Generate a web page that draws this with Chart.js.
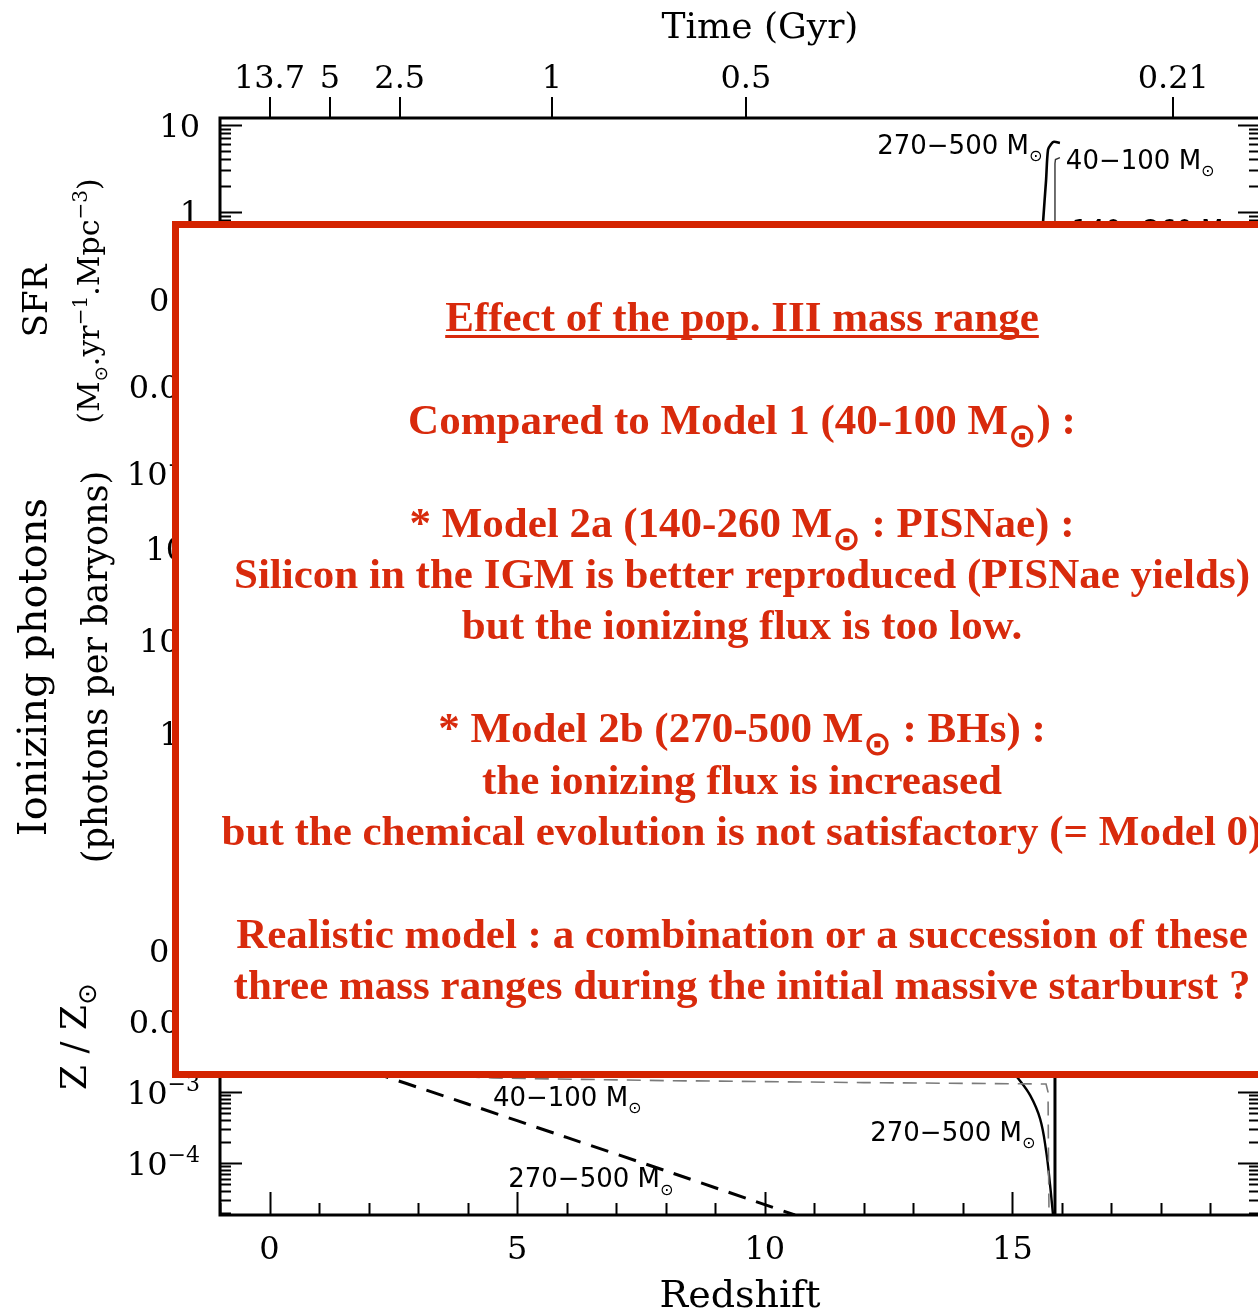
<!DOCTYPE html>
<html>
<head>
<meta charset="utf-8">
<title>Pop III mass range</title>
<script src="https://cdn.jsdelivr.net/npm/chart.js@4.4.1/dist/chart.umd.min.js"></script>
<style>
  html, body { margin: 0; padding: 0; overflow: hidden; background: #fff; }
  canvas { display: block; }
</style>
</head>
<body>
<canvas id="popChart" width="1300" height="1320"></canvas>
<script>
// Redshift axis shared by the three panels
const redshiftMin = -1;
const redshiftMax = 20;
const redshiftTicks = [0, 5, 10, 15];

// Cosmic time (Gyr) labels along the top, with the redshift each one marks
const timeLabels = ['13.7', '5', '2.5', '1', '0.5', '0.21'];
const timeRedshifts = [0, 1.22, 2.63, 5.7, 9.62, 18.25];

// Vertical ranges of the panels (SFR, ionizing photons, metallicity)
const sfrRange = [7.4e-4, 12];
const ionRange = [0.54, 4900];
const metalRange = [1.86e-5, 2.56];

// Labelled decades on each panel
const sfrDecades = [1e-3, 0.01, 0.1, 1, 10];
const ionDecades = [1, 10, 100, 1000];
const metalDecades = [1e-4, 1e-3, 0.01, 0.1, 1];

// Star formation rate, 270-500 Msun burst
const sfrBhZ = [15.58, 15.62, 15.68, 15.72, 15.78, 15.84, 15.96];
const sfrBhVal = [0.3, 0.77, 2.3, 5.2, 6.0, 6.4, 6.2];

// Star formation rate, 40-100 Msun burst
const sfrLowZ = [15.86, 15.86, 15.87, 15.96];
const sfrLowVal = [0.3, 3.6, 4.0, 4.2];

// IGM metallicity, 270-500 Msun
const igmBhZ = [1.5, 4, 6, 8, 10, 10.61];
const igmBhVal = [2.6e-3, 6.8e-4, 2.3e-4, 7.8e-5, 2.6e-5, 1.86e-5];

// IGM metallicity, 40-100 Msun
const igmLowZ = [3.5, 4.5, 8, 12, 15.68, 15.72, 15.73, 15.74];
const igmLowVal = [1.7e-3, 1.58e-3, 1.45e-3, 1.36e-3, 1.3e-3, 1.0e-3, 1e-4, 1.86e-5];

// Stellar metallicity, 270-500 Msun
const starBhZ = [14.7, 15.11, 15.36, 15.56, 15.68, 15.76, 15.82];
const starBhVal = [3.5e-3, 1.58e-3, 9.0e-4, 4.2e-4, 1.5e-4, 5.0e-5, 1.9e-5];

// Stellar metallicity, 140-260 Msun (instantaneous rise)
const starPisnZ = [15.86, 15.86];
const starPisnVal = [1.86e-5, 2.0e-3];

// Mass range tags written beside the curves: text, panel, redshift, value
const curveTags = [
  ['270\u2212500 M', 'ySfr', 12.27, 5.9],
  ['40\u2212100 M', 'ySfr', 16.08, 3.96],
  ['140\u2212260 M', 'ySfr', 16.2, 0.62],
  ['40\u2212100 M', 'yZ', 4.51, 8.5e-4],
  ['270\u2212500 M', 'yZ', 12.13, 2.75e-4],
  ['270\u2212500 M', 'yZ', 4.82, 6.1e-5]
];

// Summary written over the figure (null = blank line)
const noteLines = [
  [['Effect of the pop. III mass range']],
  null,
  [['Compared to Model 1 (40-100 M'], ['\u2299', 'sun'], [') :']],
  null,
  [['* Model 2a (140-260 M'], ['\u2299', 'sun'], [' : PISNae) :']],
  [['Silicon in the IGM is better reproduced (PISNae yields)']],
  [['but the ionizing flux is too low.']],
  null,
  [['* Model 2b (270-500 M'], ['\u2299', 'sun'], [' : BHs) :']],
  [['the ionizing flux is increased']],
  [['but the chemical evolution is not satisfactory (= Model 0)']],
  null,
  [['Realistic model : a combination or a succession of these']],
  [['three mass ranges during the initial massive starburst ?']]
];

const SERIF = '"DejaVu Serif"';
const NOTE_RED = '#d82a0c';
const BOX_RED = '#d42300';

function pairs(xs, ys) {
  return xs.map((x, i) => ({ x: x, y: ys[i] }));
}

// --- small rich-text helper: plain / sup / sub / sun-symbol segments ---
function segFont(kind, o) {
  if (kind === 'sun') return (o.sunBold ? 'bold ' : '') + Math.round(o.size * (o.sunScale || 0.6)) + 'px "DejaVu Sans"';
  if (kind === 'sup' || kind === 'sub') return o.weight + ' ' + Math.round(o.size * 0.68) + 'px ' + o.family;
  return o.weight + ' ' + o.size + 'px ' + o.family;
}

function segShift(kind, o) {
  if (kind === 'sun') return o.size * (o.sunShift || 0.28);
  if (kind === 'sub') return o.size * 0.25;
  if (kind === 'sup') return -o.size * 0.4;
  return 0;
}

function drawRich(ctx, segs, x, y, o) {
  let w = 0;
  for (const [text, kind] of segs) {
    ctx.font = segFont(kind, o);
    w += ctx.measureText(text).width;
  }
  let cx = o.align === 'center' ? x - w / 2 : (o.align === 'right' ? x - w : x);
  const left = cx;
  ctx.fillStyle = o.color;
  ctx.textAlign = 'left';
  ctx.textBaseline = 'alphabetic';
  for (const [text, kind] of segs) {
    ctx.font = segFont(kind, o);
    ctx.fillText(text, cx, y + segShift(kind, o));
    cx += ctx.measureText(text).width;
  }
  return { left: left, right: cx };
}

function decadeSegs(v) {
  const e = Math.round(Math.log10(v));
  if (e >= -2 && e <= 2) return [[String(v)]];
  return [['10'], [(e < 0 ? '\u2212' : '') + Math.abs(e), 'sup']];
}

function rotatedTitle(ctx, segs, cx, cy, size, sunScale) {
  ctx.save();
  ctx.translate(cx, cy);
  ctx.rotate(-Math.PI / 2);
  drawRich(ctx, segs, 0, size * 0.36,
    { size: size, weight: 'normal', family: SERIF, color: '#000', align: 'center', sunScale: sunScale });
  ctx.restore();
}

// Frame, inward ticks, decade labels and curve tags
const framePlugin = {
  id: 'frame',
  afterDatasetsDraw(chart) {
    const { ctx, chartArea: a, scales } = chart;
    ctx.save();
    ctx.strokeStyle = '#000';
    ctx.lineWidth = 2;

    for (const id of ['ySfr', 'yIon', 'yZ']) {
      const s = scales[id];
      const lo = Math.floor(Math.log10(s.min));
      const hi = Math.ceil(Math.log10(s.max));
      ctx.beginPath();
      for (let e = lo; e <= hi; e++) {
        for (let m = 1; m <= 9; m++) {
          const v = m * Math.pow(10, e);
          if (v < s.min || v > s.max) continue;
          const py = Math.round(s.getPixelForValue(v)) + 0.5;
          const len = m === 1 ? 22 : 11;
          ctx.moveTo(a.left, py); ctx.lineTo(a.left + len, py);
          ctx.moveTo(a.right, py); ctx.lineTo(a.right - len, py);
        }
      }
      ctx.stroke();
    }

    const xs = scales.x;
    ctx.beginPath();
    for (let z = Math.ceil(redshiftMin); z <= redshiftMax; z++) {
      const px = Math.round(xs.getPixelForValue(z)) + 0.5;
      const len = z % 5 === 0 ? 23 : 12;
      ctx.moveTo(px, a.bottom); ctx.lineTo(px, a.bottom - len);
    }
    ctx.stroke();

    ctx.lineWidth = 3;
    ctx.strokeRect(a.left, a.top, a.right - a.left, a.bottom - a.top);
    ctx.beginPath();
    for (const id of ['yIon', 'yZ']) {
      ctx.moveTo(a.left, scales[id].top);
      ctx.lineTo(a.right, scales[id].top);
    }
    ctx.stroke();

    // decade labels left of each panel
    const decadeSets = { ySfr: sfrDecades, yIon: ionDecades, yZ: metalDecades };
    for (const id in decadeSets) {
      const s = scales[id];
      for (const v of decadeSets[id]) {
        if (v < s.min || v > s.max) continue;
        drawRich(ctx, decadeSegs(v), a.left - 20, s.getPixelForValue(v) + 12,
          { size: 32, weight: 'normal', family: SERIF, color: '#000', align: 'right' });
      }
    }

    for (const [text, id, z, v] of curveTags) {
      drawRich(ctx, [[text], ['\u2299', 'sun']], xs.getPixelForValue(z), scales[id].getPixelForValue(v) + 9,
        { size: 26, weight: 'normal', family: '"DejaVu Sans"', color: '#000', align: 'left' });
    }
    ctx.restore();
  },
  afterDraw(chart) {
    const { ctx, scales } = chart;
    ctx.save();

    // axis titles
    const sfr = scales.ySfr, ion = scales.yIon, zz = scales.yZ;
    const sfrMid = (sfr.top + sfr.bottom) / 2;
    const ionMid = (ion.top + ion.bottom) / 2;
    const zMid = (zz.top + zz.bottom) / 2;
    rotatedTitle(ctx, [['SFR']], 35, sfrMid, 34);
    rotatedTitle(ctx, [['(M'], ['\u2299', 'sun'], ['.yr'], ['\u22121', 'sup'], ['.Mpc'], ['\u22123', 'sup'], [')']], 88, sfrMid, 30);
    rotatedTitle(ctx, [['Ionizing photons']], 32, ionMid, 40);
    rotatedTitle(ctx, [['(photons per baryons)']], 94, ionMid, 35);
    rotatedTitle(ctx, [['Z / Z'], ['\u2299', 'sun']], 73, zMid + 4, 36, 0.72);

    drawRich(ctx, [['Time (Gyr)']], 760, 38, { size: 36, weight: 'normal', family: SERIF, color: '#000', align: 'center' });

    // summary box laid over the panels
    ctx.fillStyle = '#fff';
    ctx.fillRect(172, 221, 1200, 857);
    ctx.strokeStyle = BOX_RED;
    ctx.lineWidth = 7;
    ctx.strokeRect(175.5, 224.5, 1200, 850);

    const size = 43;
    noteLines.forEach((segs, i) => {
      if (!segs) return;
      const base = 331 + 51.4 * i;
      const span = drawRich(ctx, segs, 742, base, {
        size: size, weight: 'bold', family: '"Liberation Serif"', color: NOTE_RED, align: 'center',
        sunScale: 0.8, sunShift: 0.3, sunBold: true
      });
      if (i === 0) {
        ctx.fillStyle = NOTE_RED;
        ctx.fillRect(span.left, base + 4, span.right - span.left, 3);
      }
    });
    ctx.restore();
  }
};

function panelAxis(range, weight, height) {
  return {
    type: 'logarithmic',
    position: 'left',
    stack: 'panels',
    stackWeight: height,
    weight: weight,
    min: range[0],
    max: range[1],
    grid: { display: false, drawTicks: false },
    border: { display: false },
    ticks: { display: false },
    afterFit: (scale) => { scale.width = 220; }
  };
}

const lineStyle = { pointRadius: 0, fill: false, borderColor: '#000', xAxisID: 'x' };

new Chart(document.getElementById('popChart'), {
  type: 'line',
  data: {
    datasets: [
      Object.assign({}, lineStyle, { data: pairs(sfrBhZ, sfrBhVal), yAxisID: 'ySfr', borderWidth: 2.6, tension: 0.3 }),
      Object.assign({}, lineStyle, { data: pairs(sfrLowZ, sfrLowVal), yAxisID: 'ySfr', borderWidth: 1.4, borderColor: '#333', tension: 0 }),
      Object.assign({}, lineStyle, { data: pairs(igmBhZ, igmBhVal), yAxisID: 'yZ', borderWidth: 3, borderDash: [18, 11], tension: 0.2 }),
      Object.assign({}, lineStyle, { data: pairs(igmLowZ, igmLowVal), yAxisID: 'yZ', borderWidth: 1.6, borderColor: '#7a7a7a', borderDash: [14, 9], tension: 0 }),
      Object.assign({}, lineStyle, { data: pairs(starBhZ, starBhVal), yAxisID: 'yZ', borderWidth: 2.4, tension: 0.4 }),
      Object.assign({}, lineStyle, { data: pairs(starPisnZ, starPisnVal), yAxisID: 'yZ', borderWidth: 3, tension: 0 })
    ]
  },
  options: {
    responsive: false,
    animation: false,
    devicePixelRatio: 1,
    layout: { padding: { left: 0, top: 0, right: 40, bottom: 0 } },
    plugins: { legend: { display: false }, tooltip: { enabled: false } },
    scales: {
      x: {
        type: 'linear',
        position: 'bottom',
        min: redshiftMin,
        max: redshiftMax,
        afterBuildTicks: (scale) => { scale.ticks = redshiftTicks.map(v => ({ value: v })); },
        afterFit: (scale) => { scale.height = 105; },
        grid: { display: false, drawTicks: false },
        border: { display: false },
        ticks: {
          autoSkip: false, maxRotation: 0, padding: 16, color: '#000',
          font: { family: 'DejaVu Serif', size: 32 },
          callback: (v) => String(v)
        },
        title: {
          display: true, text: 'Redshift', color: '#000',
          font: { family: 'DejaVu Serif', size: 38 },
          padding: { top: 0, bottom: 0 }
        }
      },
      xTime: {
        type: 'linear',
        position: 'top',
        min: redshiftMin,
        max: redshiftMax,
        afterBuildTicks: (scale) => { scale.ticks = timeRedshifts.map(v => ({ value: v })); },
        afterFit: (scale) => { scale.height = 118; },
        grid: { display: true, drawOnChartArea: false, drawTicks: true, tickLength: 21, color: '#000', lineWidth: 2 },
        border: { display: false },
        ticks: {
          autoSkip: false, maxRotation: 0, padding: -2, color: '#000',
          font: { family: 'DejaVu Serif', size: 32 },
          callback: (v, i) => timeLabels[i]
        }
      },
      ySfr: panelAxis(sfrRange, 3, 366),
      yIon: panelAxis(ionRange, 2, 366),
      yZ: panelAxis(metalRange, 1, 365)
    }
  },
  plugins: [framePlugin]
});
</script>
</body>
</html>
